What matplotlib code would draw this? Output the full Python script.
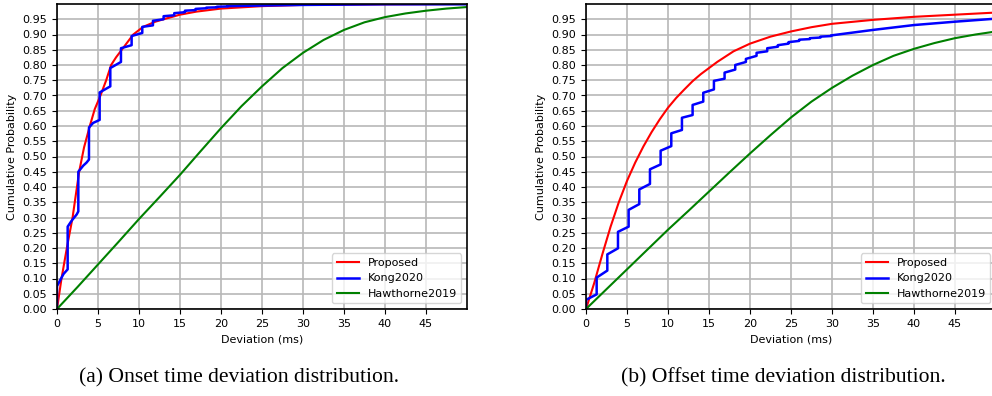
import matplotlib
matplotlib.use("Agg")
import matplotlib.pyplot as plt
import numpy as np

# ---- data ----
# (a) onset deviation
onset_prop_x = [0, 0.55, 1.2, 1.9, 2.7, 3.3, 4.0, 4.6, 5.3, 6.0, 6.6, 7.2, 7.9, 8.6, 9.3,
                10.5, 12.0, 13.0, 15.0, 17.0, 20.0, 25.0, 30.0, 40.0, 50.0]
onset_prop_y = [0, 0.10, 0.20, 0.30, 0.45, 0.53, 0.60, 0.655, 0.70, 0.75, 0.80, 0.825, 0.85, 0.875, 0.90,
                0.925, 0.942, 0.95, 0.965, 0.975, 0.985, 0.993, 0.997, 0.999, 1.0]

onset_kong_x = [0, 0, 0.3, 0.5, 0.8, 1.3, 1.3, 1.8, 2.1, 2.4, 2.6, 2.6, 3.2, 3.6, 3.9, 3.9, 4.4, 5.2, 5.2,
                6.5, 6.5, 7.8, 7.8, 9.1, 9.1, 10.4, 10.4, 11.7, 11.7, 13.0, 13.0, 14.3, 14.3,
                15.6, 15.6, 16.9, 16.9, 18.2, 18.2, 19.5, 19.5, 20.8, 20.8, 25.0, 30.0, 40.0, 50.0]
onset_kong_y = [0, 0.075, 0.09, 0.10, 0.115, 0.13, 0.27, 0.29, 0.30, 0.31, 0.32, 0.45, 0.47, 0.48, 0.49,
                0.595, 0.61, 0.62, 0.71, 0.73, 0.79, 0.81, 0.855, 0.865, 0.895, 0.905, 0.925,
                0.93, 0.945, 0.95, 0.96, 0.963, 0.97, 0.973, 0.978, 0.98, 0.984, 0.986, 0.988,
                0.989, 0.991, 0.992, 0.993, 0.995, 0.997, 0.999, 0.999]

onset_haw_x = [0, 2.5, 5, 7.5, 10, 12.5, 15, 17.5, 20, 22.5, 25, 27.5, 30, 32.5, 35, 37.5,
               40, 42.5, 45, 47.5, 50]
onset_haw_y = [0, 0.072, 0.146, 0.22, 0.295, 0.367, 0.44, 0.517, 0.593, 0.665, 0.73, 0.79,
               0.84, 0.882, 0.915, 0.94, 0.957, 0.969, 0.978, 0.985, 0.99]

# (b) offset deviation
offset_prop_x = [0, 1, 2, 3, 4, 5, 6, 7, 8, 9, 10, 11, 12, 13, 14, 16, 18, 20, 22.5, 25,
                 27.5, 30, 35, 40, 45, 50]
offset_prop_y = [0, 0.085, 0.18, 0.27, 0.35, 0.42, 0.48, 0.533, 0.58, 0.622, 0.66, 0.692, 0.72,
                 0.747, 0.77, 0.81, 0.845, 0.87, 0.893, 0.91, 0.924, 0.935, 0.948, 0.958,
                 0.965, 0.972]

offset_kong_x = [0, 0, 1.3, 1.3, 2.6, 2.6, 3.9, 3.9, 5.2, 5.2, 6.5, 6.5, 7.8, 7.8, 9.1, 9.1,
                 10.4, 10.4, 11.7, 11.7, 13.0, 13.0, 14.3, 14.3, 15.6, 15.6, 16.9, 16.9,
                 18.2, 18.2, 19.5, 19.5, 20.8, 20.8, 22.1, 22.1, 23.4, 23.4, 24.7, 24.7,
                 26.0, 26.0, 27.3, 27.3, 28.6, 28.6, 29.9, 29.9, 35.0, 40.0, 45.0, 50.0]
offset_kong_y = [0, 0.03, 0.048, 0.103, 0.126, 0.179, 0.199, 0.253, 0.27, 0.325, 0.344, 0.392,
                 0.41, 0.458, 0.474, 0.519, 0.534, 0.576, 0.587, 0.627, 0.636, 0.669, 0.68, 0.709,
                 0.72, 0.748, 0.755, 0.775, 0.785, 0.80, 0.81, 0.82, 0.83, 0.84, 0.845, 0.855,
                 0.86, 0.865, 0.87, 0.875, 0.879, 0.883, 0.885, 0.888, 0.89, 0.893, 0.895, 0.897,
                 0.915, 0.931, 0.942, 0.952]

offset_haw_x = [0, 2.5, 5, 7.5, 10, 12.5, 15, 17.5, 20, 22.5, 25, 27.5, 30, 32.5, 35, 37.5,
                40, 42.5, 45, 47.5, 50]
offset_haw_y = [0, 0.065, 0.13, 0.195, 0.26, 0.322, 0.385, 0.448, 0.51, 0.57, 0.628, 0.68,
                0.725, 0.765, 0.80, 0.83, 0.853, 0.872, 0.888, 0.90, 0.91]

labels = ["Proposed", "Kong2020", "Hawthorne2019"]
captions = ["(a) Onset time deviation distribution.", "(b) Offset time deviation distribution."]


def _panel(ax, prop, kong, haw):
    ax.plot(*prop, color="red", linewidth=1.5, label=labels[0])
    ax.plot(*kong, color="blue", linewidth=1.8, label=labels[1])
    ax.plot(*haw, color="green", linewidth=1.5, label=labels[2])
    ax.set_xlim(0, 50)
    ax.set_ylim(0, 1)
    ax.set_xticks(np.arange(0, 50, 5))
    ax.set_yticks(np.arange(0, 0.96, 0.05))
    ax.yaxis.set_major_formatter(matplotlib.ticker.FormatStrFormatter("%.2f"))
    ax.grid(True, color="#b8b8b8", linewidth=1.2)
    ax.tick_params(labelsize=8)
    ax.set_xlabel("Deviation (ms)", fontsize=8)
    ax.set_ylabel("Cumulative Probability", fontsize=8)
    for spine in ax.spines.values():
        spine.set_linewidth(1.2)
    ax.legend(loc="lower right", fontsize=8)


fig = plt.figure(figsize=(9.92, 3.96), dpi=100)
ax1 = fig.add_axes([57 / 992, 87 / 396, 410 / 992, 305 / 396])
ax2 = fig.add_axes([586 / 992, 87 / 396, 410 / 992, 305 / 396])

_panel(ax1, (onset_prop_x, onset_prop_y), (onset_kong_x, onset_kong_y), (onset_haw_x, onset_haw_y))
_panel(ax2, (offset_prop_x, offset_prop_y), (offset_kong_x, offset_kong_y), (offset_haw_x, offset_haw_y))

fig.text(239 / 992, 1 - 378 / 396, captions[0], ha="center", va="center",
         fontsize=15.6, family="Liberation Serif")
fig.text(783 / 992, 1 - 378 / 396, captions[1], ha="center", va="center",
         fontsize=15.6, family="Liberation Serif")

fig.savefig("out.png", dpi=100)
